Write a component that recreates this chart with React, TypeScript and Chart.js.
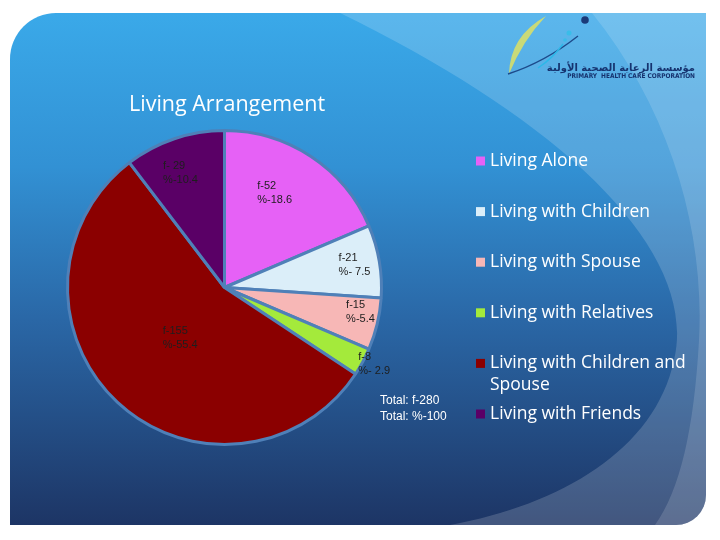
import React, { useEffect, useRef } from 'react';
import { Chart, registerables } from 'chart.js';

Chart.register(...registerables);

// ---- data ----
const categories = [
  'Living Alone',
  'Living with Children',
  'Living with Spouse',
  'Living with Relatives',
  'Living with Children and Spouse',
  'Living with Friends',
];
const frequencies = [52, 21, 15, 8, 155, 29];
const percents = [18.6, 7.5, 5.4, 2.9, 55.4, 10.4];
const freqText = ['f-52', 'f-21', 'f-15', 'f-8', 'f-155', 'f- 29'];
const pctText = ['%-18.6', '%- 7.5', '%-5.4', '%- 2.9', '%-55.4', '%-10.4'];
const totalText = ['Total: f-280', 'Total: %-100'];
const titleText = 'Living Arrangement';
const logoArabic = 'مؤسسة الرعاية الصحية الأولية';
const logoEnglish = 'PRIMARY  HEALTH CARE CORPORATION';

// ---- styles / layout ----
const colors = ['#e661f6', '#dbeef9', '#f7b7b6', '#a4ea3b', '#8b0000', '#5a0066'];
const labelFrac = [0.68, 0.84, 0.88, 1.07, 0.43, 0.78];
const labelShiftDeg = [-5.4, 0, -3.3, -1.3, -2, -2.4];
const LEGEND_FONT = '17.5px "Open Sans"';
const TITLE_FONT = '21.5px "Open Sans"';

function slidePath(ctx: CanvasRenderingContext2D) {
  ctx.beginPath();
  ctx.moveTo(10, 60);
  ctx.arcTo(10, 13, 55, 13, 46);
  ctx.lineTo(706, 13);
  ctx.lineTo(706, 495);
  ctx.arcTo(706, 525, 676, 525, 30);
  ctx.lineTo(10, 525);
  ctx.closePath();
}

const backgroundPlugin = {
  id: 'slideBackground',
  beforeDraw(chart: any) {
    const ctx: CanvasRenderingContext2D = chart.ctx;
    ctx.save();
    ctx.fillStyle = '#ffffff';
    ctx.fillRect(0, 0, chart.width, chart.height);
    slidePath(ctx);
    const g = ctx.createLinearGradient(0, 13, 0, 525);
    g.addColorStop(0, '#3aa9e9');
    g.addColorStop(0.3, '#3291d4');
    g.addColorStop(0.6, '#2a67a6');
    g.addColorStop(1, '#1d3565');
    ctx.fillStyle = g;
    ctx.fill();
    ctx.clip();
    // band 1
    ctx.beginPath();
    ctx.moveTo(340, 13);
    ctx.bezierCurveTo(560, 120, 700, 250, 674, 360);
    ctx.bezierCurveTo(655, 450, 560, 505, 450, 525);
    ctx.lineTo(720, 525);
    ctx.lineTo(720, 13);
    ctx.closePath();
    ctx.fillStyle = 'rgba(255,255,255,0.17)';
    ctx.fill();
    // band 2
    ctx.beginPath();
    ctx.moveTo(592, 13);
    ctx.bezierCurveTo(670, 110, 705, 230, 699, 340);
    ctx.bezierCurveTo(694, 430, 680, 490, 655, 525);
    ctx.lineTo(720, 525);
    ctx.lineTo(720, 13);
    ctx.closePath();
    ctx.fillStyle = 'rgba(255,255,255,0.14)';
    ctx.fill();
    ctx.restore();

    // logo
    ctx.save();
    ctx.fillStyle = '#c9da78';
    ctx.beginPath();
    ctx.moveTo(509, 74);
    ctx.quadraticCurveTo(510, 36, 546, 16);
    ctx.quadraticCurveTo(523, 40, 509, 74);
    ctx.fill();
    ctx.strokeStyle = '#1d4a8a';
    ctx.lineWidth = 1.4;
    ctx.beginPath();
    ctx.moveTo(508, 74);
    ctx.quadraticCurveTo(545, 62, 578, 36);
    ctx.stroke();
    ctx.strokeStyle = '#2cb8e8';
    ctx.lineWidth = 1.4;
    ctx.beginPath();
    ctx.moveTo(538, 68);
    ctx.quadraticCurveTo(553, 58, 563, 44);
    ctx.stroke();
    ctx.fillStyle = '#1b3a78';
    ctx.beginPath();
    ctx.arc(585, 20, 3.8, 0, Math.PI * 2);
    ctx.fill();
    ctx.fillStyle = '#39bde9';
    ctx.beginPath();
    ctx.arc(569, 33, 2.5, 0, Math.PI * 2);
    ctx.fill();
    ctx.beginPath();
    ctx.arc(565, 40, 1.8, 0, Math.PI * 2);
    ctx.fill();
    ctx.fillStyle = '#16336f';
    ctx.textAlign = 'right';
    ctx.textBaseline = 'middle';
    ctx.font = 'bold 10px "DejaVu Sans"';
    ctx.fillText(logoArabic, 695, 68);
    ctx.font = 'bold 6.5px "DejaVu Sans Condensed", "DejaVu Sans"';
    ctx.fillText(logoEnglish, 695, 76);
    ctx.restore();
  },
};

const overlayPlugin = {
  id: 'overlayTexts',
  afterDraw(chart: any) {
    const ctx: CanvasRenderingContext2D = chart.ctx;
    const meta = chart.getDatasetMeta(0);
    ctx.save();
    // slice labels
    ctx.font = '11px "Liberation Sans", Arial';
    ctx.fillStyle = '#1e1e1e';
    ctx.textBaseline = 'middle';
    meta.data.forEach((arc: any, i: number) => {
      const p = arc.getProps(['x', 'y', 'startAngle', 'endAngle', 'outerRadius'], true);
      const a = (p.startAngle + p.endAngle) / 2 + (labelShiftDeg[i] * Math.PI) / 180;
      const r = p.outerRadius * labelFrac[i];
      const cx = p.x + Math.cos(a) * r;
      const cy = p.y + Math.sin(a) * r;
      const w = Math.max(ctx.measureText(freqText[i]).width, ctx.measureText(pctText[i]).width);
      ctx.textAlign = 'left';
      ctx.fillText(freqText[i], cx - w / 2, cy - 7);
      ctx.fillText(pctText[i], cx - w / 2, cy + 7);
    });
    // totals
    ctx.fillStyle = '#ffffff';
    ctx.font = '12px "Liberation Sans", Arial';
    ctx.textAlign = 'left';
    ctx.fillText(totalText[0], 380, 401);
    ctx.fillText(totalText[1], 380, 417);

    // title
    ctx.font = TITLE_FONT;
    ctx.fillStyle = '#ffffff';
    ctx.fillText(titleText, 129, 105);

    // legend
    const labels: string[] = chart.data.labels;
    const bg: string[] = chart.data.datasets[0].backgroundColor;
    ctx.font = LEGEND_FONT;
    labels.forEach((lab, i) => {
      const y = 161 + i * 50.6;
      ctx.fillStyle = bg[i];
      ctx.fillRect(476, y - 4.5, 9, 9);
      ctx.fillStyle = '#ffffff';
      const words = lab.split(' ');
      const lines: string[] = [];
      let cur = '';
      words.forEach((w) => {
        const t = cur ? cur + ' ' + w : w;
        if (ctx.measureText(t).width > 205 && cur) {
          lines.push(cur);
          cur = w;
        } else cur = t;
      });
      lines.push(cur);
      lines.forEach((ln, k) => ctx.fillText(ln, 490, y + k * 22));
    });
    ctx.restore();
  },
};

export default function App() {
  const ref = useRef<HTMLCanvasElement | null>(null);
  useEffect(() => {
    if (!ref.current) return;
    const chart = new Chart(ref.current, {
      type: 'pie',
      data: {
        labels: categories,
        datasets: [
          {
            data: frequencies,
            backgroundColor: colors,
            borderColor: '#4f80b8',
            borderWidth: 3,
          },
        ],
      },
      options: {
        responsive: false,
        animation: false,
        devicePixelRatio: 1,
        layout: { padding: { left: 66, top: 129, right: 337, bottom: 94 } },
        plugins: {
          legend: { display: false },
          tooltip: { enabled: false },
          title: { display: false },
        },
      },
      plugins: [backgroundPlugin, overlayPlugin],
    });
    return () => chart.destroy();
  }, []);
  return (
    <canvas
      ref={ref}
      width={720}
      height={540}
      style={{ position: 'absolute', left: 0, top: 0, width: 720, height: 540 }}
      data-percents={percents.join(',')}
    />
  );
}
